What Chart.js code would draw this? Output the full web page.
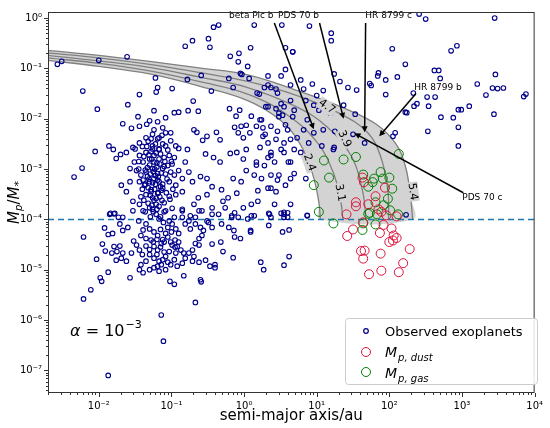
<!DOCTYPE html>
<html><head><meta charset="utf-8">
<script src="https://cdn.jsdelivr.net/npm/chart.js@4/dist/chart.umd.min.js"></script>
<style>html,body{margin:0;padding:0;background:#fff}#w{width:550px;height:428px}</style>
</head><body><div id="w"><canvas id="c"></canvas></div>
<script>
// All values are log10(semi-major axis / au), log10(Mp/M*)
const observedLog = [
[-0.42,-0.18],[-0.35,-0.14],[0.14,-0.14],[0.52,-0.14],[-0.81,-0.56],[-0.71,-0.45],[-0.49,-0.41],[-0.47,-0.58],[0.09,-0.59],[-0.07,-0.70],
[-0.19,-0.76],[-0.08,-0.87],[0.05,-0.96],[-0.05,-1.10],[-0.03,-1.12],[-1.61,-0.77],[-2.00,-0.84],[-2.57,-0.92],[-2.51,-0.86],[-1.22,-1.19],
[-0.78,-1.22],[-0.59,-1.14],[-0.45,-1.45],[-0.21,-1.20],[-0.15,-1.38],[0.07,-1.20],[0.18,-1.49],[0.28,-1.38],[0.33,-1.33],[0.37,-1.38],
[0.46,-1.49],[0.57,-1.02],[0.67,-0.67],[-2.22,-1.45],[-1.19,-1.38],[-1.21,-1.47],[-0.99,-1.40],[-1.44,-1.52],[-1.60,-1.72],[-2.02,-1.81],
[-1.24,-1.84],[-0.96,-1.88],[-0.90,-1.87],[-0.77,-1.84],[-0.63,-1.85],[-0.70,-1.65],[-0.20,-1.80],[-0.11,-1.95],[-0.06,-1.83],[0.10,-1.95],
[0.22,-2.02],[0.33,-1.76],[0.44,-1.80],[0.48,-1.89],[0.53,-1.93],[0.57,-2.12],[0.55,-1.76],[0.69,-1.83],[-1.46,-1.96],[-1.67,-2.10],
[-1.55,-2.19],[-1.44,-2.15],[-1.30,-2.04],[-1.19,-2.06],[-1.08,-1.98],[-1.34,-2.11],[-1.24,-2.22],[-1.12,-2.18],[-1.01,-2.28],[-0.69,-2.22],
[-0.65,-2.27],[-0.57,-2.43],[-0.51,-2.35],[-0.38,-2.27],[-0.33,-2.42],[-0.13,-2.17],[-0.04,-2.15],[0.03,-2.13],[-0.08,-2.28],[-0.01,-2.38],
[0.08,-2.28],[0.17,-2.15],[0.26,-2.18],[0.29,-2.31],[0.37,-2.15],[0.46,-2.25],[0.33,-2.48],[0.22,-2.57],[0.37,-2.67],[0.55,-2.48],
[0.55,-2.67],[0.64,-2.41],[0.69,-2.61],[0.61,-2.86],[0.42,-2.86],[0.33,-2.77],[0.17,-2.92],[-0.01,-2.80],[0.03,-2.61],[-0.10,-2.67],
[-0.19,-2.69],[-0.33,-2.86],[-0.42,-2.77],[-0.53,-2.70],[-0.78,-2.61],[-0.90,-2.59],[-1.86,-2.54],[-1.80,-2.61],[-2.05,-2.65],[-2.23,-2.98],
[-2.34,-3.16],[-1.76,-2.79],[-1.70,-2.71],[-1.62,-2.67],[-1.53,-2.57],[-1.44,-2.48],[-1.35,-2.38],[-1.26,-2.31],[-1.17,-2.38],[-1.08,-2.28],
[-1.01,-2.44],[-0.94,-2.54],[-1.08,-2.54],[-1.17,-2.61],[-1.26,-2.54],[-1.35,-2.67],[-1.44,-2.73],[-1.51,-2.86],[-1.57,-2.99],[-1.48,-3.03],
[-1.39,-2.86],[-1.30,-2.80],[-1.24,-2.73],[-1.17,-2.80],[-1.10,-2.77],[-1.03,-2.73],[-0.96,-2.77],[-0.99,-2.90],[-1.05,-2.93],[-1.12,-2.99],
[-1.19,-3.09],[-1.26,-2.99],[-1.35,-3.06],[-1.42,-3.12],[-1.44,-3.25],[-1.37,-3.32],[-1.30,-3.25],[-1.24,-3.19],[-1.17,-3.25],[-1.28,-3.41],
[-1.35,-3.51],[-1.26,-3.57],[-1.19,-3.48],[-1.12,-3.38],[-1.03,-3.25],[-0.96,-3.12],[-0.90,-3.03],[-1.01,-3.06],[-0.94,-3.32],[-0.85,-3.19],
[-0.76,-3.06],[-0.81,-2.86],[-0.71,-3.25],[-0.85,-3.45],[-0.94,-3.51],[-1.03,-3.54],[-1.10,-3.67],[-1.21,-3.70],[-1.30,-3.77],[-1.21,-3.90],
[-1.44,-3.70],[-1.53,-3.64],[-1.62,-3.45],[-1.69,-3.32],[-1.57,-3.25],[-0.60,-3.15],[-0.51,-3.19],[-0.44,-3.35],[-0.51,-3.51],[-0.63,-3.57],
[-0.69,-3.70],[-0.31,-3.41],[-0.29,-3.64],[-0.22,-3.57],[-0.10,-3.48],[-0.15,-3.19],[-0.04,-3.25],[0.03,-3.03],[0.14,-3.12],[0.17,-2.86],
[0.28,-2.93],[0.37,-3.12],[0.46,-3.22],[0.57,-3.32],[0.69,-3.09],[0.44,-3.45],[0.33,-3.38],[0.19,-3.64],[0.10,-3.70],[-0.01,-3.77],
[-0.13,-3.87],[-0.26,-3.77],[-0.35,-3.90],[-0.44,-3.77],[-0.58,-3.83],[-0.74,-3.93],[-0.85,-3.80],[-0.99,-3.78],[-0.17,-3.96],[0.10,-3.93],
[0.37,-3.96],[0.55,-3.90],[0.64,-3.70],[-1.85,-3.90],[-1.79,-3.89],[-0.96,-3.96],
[-1.32,-2.45],[-1.22,-2.50],[-1.15,-2.70],[-1.28,-2.65],[-1.20,-2.88],[-1.30,-2.92],[-1.10,-2.95],[-1.25,-3.05],[-1.18,-3.15],[-1.33,-3.15],
[-1.22,-3.30],[-1.12,-3.30],[-1.28,-3.45],[-1.16,-3.55],[-1.24,-3.62],[-1.32,-3.68],[-1.20,-3.80],[-1.10,-3.85],[-1.40,-3.40],[-1.45,-3.00],
[-1.38,-2.75],[-1.05,-2.62],[-1.00,-2.85],[-1.08,-3.10],[-0.98,-3.40],[-1.50,-2.60],[-1.27,-2.80],[-1.17,-2.60],[-1.23,-3.00],[-1.14,-3.42],
[-1.36,-3.30],[-1.29,-3.95],[-1.15,-3.95],[-1.42,-3.55],[-1.19,-2.40],[-1.34,-2.55],
[-1.26,-2.60],[-1.21,-2.68],[-1.31,-2.72],[-1.24,-2.86],[-1.16,-2.90],[-1.33,-2.97],[-1.20,-2.96],[-1.29,-3.10],[-1.14,-3.08],[-1.22,-3.13],
[-1.31,-3.20],[-1.19,-3.22],[-1.26,-3.27],[-1.15,-3.35],[-1.32,-3.37],[-1.23,-3.40],[-1.18,-3.47],[-1.29,-3.52],[-1.21,-3.58],[-1.13,-3.62],
[-1.27,-3.72],[-1.17,-3.74],[-1.25,-3.85],[-1.36,-3.85],[-1.12,-2.50],[-1.40,-2.55],[-1.09,-2.85],[-1.36,-3.02],[-1.06,-3.20],[-1.39,-3.22],
[-1.07,-3.47],[-1.38,-3.62],[-1.28,-2.40],[-1.13,-2.33],[-1.45,-2.85],[-1.02,-3.60],
[2.41,0.08],[2.50,-0.02],[3.45,0],[0.90,-0.16],[1.20,-0.30],[1.20,-0.45],[0.57,-0.59],[0.67,-0.67],[2.04,-0.61],[2.22,-0.92],
[2.85,-0.65],[2.93,-0.55],[2.62,-1.04],[2.68,-1.04],[2.70,-1.20],[1.85,-1.09],[1.84,-1.15],[2.11,-1.17],[1.95,-1.23],[1.73,-1.30],
[1.75,-1.34],[1.43,-1.38],[1.55,-1.43],[1.24,-1.11],[1.32,-1.26],[0.64,-1.33],[1.00,-1.54],[1.37,-1.73],[1.53,-1.91],[1.95,-1.52],
[2.33,-1.49],[2.52,-1.57],[2.63,-1.57],[2.54,-1.75],[2.38,-1.70],[2.34,-1.75],[2.22,-1.87],[2.24,-1.88],[2.08,-2.28],[2.05,-2.35],
[2.53,-2.25],[2.71,-1.97],[2.88,-1.98],[2.95,-1.82],[2.99,-1.82],[3.10,-1.75],[3.21,-1.31],[3.33,-1.53],[3.42,-1.39],[3.46,-1.12],
[3.49,-1.40],[3.57,-1.39],[3.44,-1.91],[2.95,-2.17],[2.95,-2.54],[3.85,-1.56],[3.88,-1.51],[1.24,-2.57],[0.87,-3.92],[0.19,-3.43],
[0.14,-3.93],[0.34,-3.88],[0.51,-3.88],[0.55,-3.96],[0.60,-3.87],[0.42,-3.70],[0.37,-3.38],[0.24,-3.19],[0.48,-3.12],[0.64,-3.19],
[0.85,-3.19],[0.64,-2.86],[0.37,-2.73],[0.51,-2.61],[0.26,-2.35],[0.44,-2.41],[0.60,-2.22],[0.73,-2.38],[0.24,-2.02],[0.48,-1.96],
[0.67,-1.96],[0.87,-2.02],[0.30,-1.76],[0.51,-1.70],[0.64,-1.64],[0.85,-1.64],[0.96,-1.73],[0.21,-1.51],[0.44,-1.41],[0.33,-1.15],
[0.51,-1.15],[0.78,-1.23],[0.94,-1.31],[0.82,-1.41],[1.09,-1.44],[1.03,-1.83],[1.19,-1.89],[1.25,-2.25],[1.09,-2.22],[0.96,-2.28],
[0.82,-2.22],[0.89,-2.48],[0.78,-2.67],[1.07,-2.54],[2.23,-3.91],[1.50,-2.31],[1.66,-2.48],[1.23,-2.61],
[-2.21,-4.35],[-1.92,-4.17],[-1.87,-4.30],[-1.84,-3.88],[-1.78,-3.88],[-1.81,-4.28],[-1.95,-4.49],[-2.03,-4.79],[-1.91,-4.63],[-1.79,-4.54],
[-1.71,-4.53],[-1.75,-4.64],[-1.82,-4.67],[-1.76,-4.81],[-1.69,-4.77],[-1.62,-4.83],[-1.87,-5.05],[-1.98,-5.16],[-1.96,-5.23],[-2.11,-5.40],
[-2.21,-5.58],[-1.57,-5.16],[-1.67,-4.22],[-1.60,-4.16],[-1.71,-4.09],[-1.67,-4.67],[-1.55,-4.67],[-1.52,-4.43],[-1.48,-4.51],[-1.44,-4.61],
[-1.42,-4.32],[-1.39,-4.21],[-1.45,-4.03],[-1.35,-4.09],[-1.30,-4.19],[-1.24,-4.25],[-1.19,-4.32],[-1.28,-4.41],[-1.35,-4.53],[-1.24,-4.54],
[-1.19,-4.61],[-1.14,-4.48],[-1.12,-4.40],[-1.08,-4.28],[-1.05,-4.16],[-1.11,-4.06],[-1.17,-3.99],[-1.03,-4.03],[-0.99,-4.09],[-0.94,-4.19],
[-0.90,-4.28],[-0.95,-4.41],[-1.01,-4.45],[-0.99,-4.51],[-0.92,-4.54],[-0.87,-4.61],[-0.83,-4.67],[-0.94,-4.67],[-1.03,-4.64],[-1.08,-4.74],
[-1.12,-4.80],[-1.17,-4.83],[-1.24,-4.77],[-1.30,-4.70],[-1.35,-4.83],[-1.42,-4.90],[-1.44,-5.00],[-1.39,-5.06],[-1.30,-5.00],[-1.24,-4.96],
[-1.17,-5.03],[-1.19,-4.93],[-1.14,-4.90],[-1.08,-5.00],[-1.01,-4.90],[-0.96,-4.80],[-0.92,-4.93],[-0.85,-4.87],[-0.81,-4.77],[-0.76,-4.67],
[-0.71,-4.61],[-0.67,-4.48],[-0.62,-4.38],[-0.58,-4.32],[-0.56,-4.22],[-0.60,-4.16],[-0.67,-4.09],[-0.74,-4.19],[-0.76,-4.03],[-0.81,-4.09],
[-0.85,-3.96],[-0.67,-3.96],[-0.49,-4.06],[-0.44,-4.16],[-0.51,-4.03],[-0.62,-4.51],[-0.69,-4.74],[-0.71,-4.83],[-0.62,-4.85],[-0.53,-4.81],
[-0.47,-4.93],[-0.40,-4.90],[-0.40,-4.96],[-0.60,-5.20],[-0.59,-5.24],[-0.67,-5.65],[-1.02,-5.23],[-0.96,-5.29],[-0.83,-5.12],[-1.14,-5.90],
[-1.11,-6.42],[-1.87,-7.10],[-0.44,-4.49],[-0.32,-4.45],[-0.29,-4.64],[-0.15,-4.76],[-0.05,-4.38],[0.09,-4.25],[0.09,-4.22],[-0.21,-4.16],
[-0.31,-4.09],[-0.13,-4.35],[-0.14,-4.22],[0.23,-4.85],[0.27,-5.00],[0.34,-4.12],[0.55,-4.91],[0.53,-4.25],[0.62,-4.21],[0.62,-4.74],
[0.60,-3.96],[0.87,-3.93],[0.55,-3.86],[0.35,-3.90],[0.05,-3.99],[-0.08,-3.96],[-0.17,-3.93],[-0.44,-3.90],[-0.62,-3.83],[-0.85,-3.83],
[-1.08,-3.83],[-1.26,-3.80],[-1.39,-3.83],[-1.53,-3.83],[-1.67,-3.96],[-1.73,-3.96],
[-1.10,-4.45],[-1.20,-4.40],[-1.15,-4.55],[-1.05,-4.35],[-1.25,-4.45],[-1.00,-4.25],[-1.10,-4.65],[-1.30,-4.60],[-1.15,-4.20],[-0.95,-4.55],
[-1.20,-4.70],[-1.05,-4.85],[-1.35,-4.38],[-0.90,-4.45],[-1.40,-4.70]
];
const gasLog = [
[1.10,-2.83],[1.37,-2.81],[1.54,-2.76],[2.13,-2.70],[1.17,-3.17],[0.96,-3.32],[1.64,-3.11],[1.71,-3.35],[1.79,-3.19],[1.88,-3.06],
[1.91,-3.19],[2.00,-3.17],[1.77,-3.26],[2.04,-3.39],[1.98,-3.59],[1.81,-3.66],[1.92,-3.72],[2.01,-3.82],[2.12,-3.90],[1.73,-3.87],
[1.83,-3.90],[1.03,-3.85],[1.23,-4.08],[1.64,-4.08],[1.81,-4.10],[1.63,-4.21],[1.71,-3.89]
];
const dustLog = [
[1.63,-3.17],[1.65,-3.26],[1.94,-3.37],[1.81,-3.54],[1.54,-3.66],[1.54,-3.74],[1.71,-3.70],[1.85,-3.80],[1.89,-3.85],[1.41,-3.90],
[1.96,-3.92],[2.10,-3.94],[1.64,-4.06],[1.92,-4.11],[2.03,-4.18],[1.50,-4.20],[1.87,-4.27],[1.42,-4.33],[2.06,-4.32],[2.10,-4.37],
[2.00,-4.45],[2.05,-4.42],[1.61,-4.63],[1.66,-4.62],[1.88,-4.68],[1.64,-4.78],[2.28,-4.59],[2.19,-4.87],[1.89,-5.02],[1.72,-5.09],[2.13,-5.05]
];
// contour curves (log10 a, log10 Mp/M*)
const curve54 = [[-2.70,-0.64],[-2.0,-0.74],[-1.30,-0.86],[-0.62,-0.99],[0.05,-1.13],[0.73,-1.44],[1.41,-1.81],[1.82,-2.11],[2.09,-2.50],[2.22,-2.94],[2.29,-3.53],[2.32,-4]];
const curve47 = [[-2.70,-0.69],[-2.0,-0.79],[-1.30,-0.92],[-0.62,-1.08],[0.05,-1.26],[0.73,-1.54],[1.28,-1.87],[1.69,-2.26],[1.88,-2.75],[1.98,-3.43],[1.99,-4]];
const curve39 = [[-2.70,-0.74],[-2.0,-0.85],[-1.30,-0.98],[-0.62,-1.17],[0.05,-1.38],[0.73,-1.77],[1.14,-2.16],[1.48,-2.75],[1.63,-3.43],[1.68,-4]];
const curve31 = [[-2.70,-0.79],[-2.0,-0.90],[-1.30,-1.05],[-0.62,-1.26],[0.05,-1.51],[0.60,-1.93],[1.00,-2.46],[1.22,-3.04],[1.33,-3.63],[1.36,-4]];
const curve24 = [[-2.70,-0.84],[-2.0,-0.96],[-1.30,-1.11],[-0.62,-1.35],[0.05,-1.64],[0.50,-2.03],[0.77,-2.50],[0.94,-3.08],[1.03,-3.66],[1.05,-4]];
const curveLabels = ['2.4','3.1','3.9','4.7','5.4'];
const curveLabelLog = [[0.90,-2.87],[1.32,-3.47],[1.38,-2.40],[1.14,-1.76],[2.32,-3.45]];
const planetNames = ['beta Pic b','PDS 70 b','HR 8799 c','HR 8799 b','PDS 70 c'];
const planetLog = [[0.96,-2.21],[1.37,-2.00],[1.66,-2.27],[1.86,-2.35],[1.52,-2.29]];
const planetTextLog = [[0.10,0.04],[0.75,0.04],[1.99,0.04],[2.67,-1.38],[3.28,-3.57]];
const massLimit = 1e-4;
const xRange = [2e-3, 1e4];
const yRange = [3.55e-8, 1.32];

const P = a => a.map(([l,m]) => ({x: 10**l, y: 10**m}));
const band = P(curve54.concat(curve24.slice().reverse()));
const FONT = 'DejaVu Sans';
const SUP = {'-':'⁻','0':'⁰','1':'¹','2':'²','3':'³','4':'⁴','5':'⁵','6':'⁶','7':'⁷','8':'⁸','9':'⁹'};
const isPow = v => Math.abs(Math.log10(v) - Math.round(Math.log10(v))) < 1e-6;
const tickList = (lo, hi) => { const t=[]; for (let e=Math.floor(Math.log10(lo)); e<=Math.ceil(Math.log10(hi)); e++) for (let m=1;m<10;m++){ const v=m*Math.pow(10,e); if(v>=lo*0.999999&&v<=hi*1.000001) t.push({value:v}); } return t; };
const lbl = v => isPow(v) ? '10' + String(Math.round(Math.log10(v))).split('').map(c=>SUP[c]).join('') : '';

const lineDs = (c) => ({type:'line', data:P(c), borderColor:'#808080', borderWidth:1.3, pointRadius:0, fill:false, tension:0.4, order:9});

const deco = {
  id:'deco',
  afterDatasetsDraw(chart){
    const ctx=chart.ctx, xs=chart.scales.x, ys=chart.scales.y, ca=chart.chartArea;
    const X=l=>xs.getPixelForValue(10**l), Y=l=>ys.getPixelForValue(10**l);
    ctx.save();
    const rot=[70,80,65,35,82];
    curveLabels.forEach((t,i)=>{
      const px=X(curveLabelLog[i][0]), py=Y(curveLabelLog[i][1]);
      ctx.save(); ctx.translate(px,py); ctx.rotate(rot[i]*Math.PI/180);
      ctx.font='11px '+FONT; const w=ctx.measureText(t).width;
      ctx.fillStyle='#d3d3d3'; ctx.fillRect(-w/2-1,-6,w+2,12);
      ctx.fillStyle='#000'; ctx.textAlign='center'; ctx.textBaseline='middle'; ctx.fillText(t,0,0);
      ctx.restore();
    });
    ctx.font='9px '+FONT; ctx.fillStyle='#000'; ctx.textAlign='center'; ctx.textBaseline='middle';
    const tailOff=[[23,7],[21,7],[-23,7],[-22,6],[-19,-5]];
    planetNames.forEach((n,i)=>{
      const tx=X(planetTextLog[i][0]), ty=Y(planetTextLog[i][1]);
      ctx.fillText(n,tx,ty);
      const x0=tx+tailOff[i][0], y0=ty+tailOff[i][1];
      const x1=X(planetLog[i][0]), y1=Y(planetLog[i][1]);
      ctx.strokeStyle='#000'; ctx.lineWidth=1.5;
      const a=Math.atan2(y1-y0,x1-x0), h=6;
      ctx.beginPath(); ctx.moveTo(x0,y0); ctx.lineTo(x1-h*Math.cos(a)*0.8,y1-h*Math.sin(a)*0.8); ctx.stroke();
      ctx.beginPath(); ctx.moveTo(x1,y1);
      ctx.lineTo(x1-h*Math.cos(a)+3*Math.sin(a), y1-h*Math.sin(a)-3*Math.cos(a));
      ctx.lineTo(x1-h*Math.cos(a)-3*Math.sin(a), y1-h*Math.sin(a)+3*Math.cos(a));
      ctx.closePath(); ctx.fill();
    });
    ctx.textAlign='left'; ctx.textBaseline='alphabetic';
    ctx.font='italic 16px '+FONT; ctx.fillText('α',70,336);
    let w=ctx.measureText('α').width;
    ctx.font='16px '+FONT; ctx.fillText(' = 10',70+w,336);
    w+=ctx.measureText(' = 10').width;
    ctx.font='11px '+FONT; ctx.fillText('−3',70+w+1,328);
    ctx.strokeStyle='#333'; ctx.lineWidth=1;
    ctx.strokeRect(ca.left+0.5,ca.top+0.5,ca.right-ca.left-1,ca.bottom-ca.top-1);
    xs.ticks.forEach(t=>{const p=Math.round(xs.getPixelForValue(t.value))+0.5; const L=isPow(t.value)?4:2; ctx.beginPath(); ctx.moveTo(p,ca.bottom); ctx.lineTo(p,ca.bottom+L); ctx.stroke();});
    ys.ticks.forEach(t=>{const p=Math.round(ys.getPixelForValue(t.value))+0.5; const L=isPow(t.value)?4:2; ctx.beginPath(); ctx.moveTo(ca.left,p); ctx.lineTo(ca.left-L,p); ctx.stroke();});
    ctx.fillStyle='#000'; ctx.textAlign='center'; ctx.textBaseline='middle';
    ctx.font='15px '+FONT; ctx.fillText('semi-major axis/au',(ca.left+ca.right)/2,416);
    ctx.save(); ctx.translate(15,(ca.top+ca.bottom)/2); ctx.rotate(-Math.PI/2);
    const parts=[['M','italic 15px',0],['p','italic 10px',4],['/','15px',0],['M','italic 15px',0],['*','11px',4]];
    let tw=0; parts.forEach(p=>{ctx.font=p[1]+' '+FONT; tw+=ctx.measureText(p[0]).width;});
    let cx=-tw/2; ctx.textAlign='left';
    parts.forEach(p=>{ctx.font=p[1]+' '+FONT; ctx.fillText(p[0],cx,p[2]); cx+=ctx.measureText(p[0]).width;});
    ctx.restore();
    const lx=345, ly=318, lw=192, lh=66;
    ctx.fillStyle='rgba(255,255,255,0.85)'; ctx.strokeStyle='#ccc'; ctx.lineWidth=1;
    ctx.beginPath(); ctx.roundRect(lx+0.5,ly+0.5,lw,lh,3); ctx.fill(); ctx.stroke();
    const rows=[[331,'#00008b',2.3,1.2],[352,'crimson',4.5,1],[372,'green',4.5,1]];
    rows.forEach(r=>{ctx.strokeStyle=r[1]; ctx.lineWidth=r[3]; ctx.beginPath(); ctx.arc(366,r[0],r[2],0,Math.PI*2); ctx.stroke();});
    ctx.fillStyle='#000'; ctx.textAlign='left'; ctx.textBaseline='alphabetic';
    ctx.font='13px '+FONT; ctx.fillText('Observed exoplanets',385,336);
    [[357,'p, dust'],[378,'p, gas']].forEach(([yy,s])=>{
      ctx.font='italic 14px '+FONT; ctx.fillText('M',385,yy);
      const mw=ctx.measureText('M').width; ctx.font='italic 10px '+FONT; ctx.fillText(s,385+mw+1,yy+4);
    });
    ctx.restore();
  }
};

new Chart(document.getElementById('c'), {
  type:'scatter',
  data:{datasets:[
    {type:'line', data:band, backgroundColor:'#d3d3d3', borderWidth:0, borderColor:'rgba(0,0,0,0)', pointRadius:0, fill:'shape', tension:0.4, order:10},
    lineDs(curve24), lineDs(curve31), lineDs(curve39), lineDs(curve47), lineDs(curve54),
    {type:'line', data:[{x:xRange[0],y:massLimit},{x:xRange[1],y:massLimit}], borderColor:'#1f77b4', borderWidth:1.5, borderDash:[6,4], pointRadius:0, fill:false, order:8},
    {data:P(observedLog), borderColor:'#00008b', backgroundColor:'rgba(0,0,0,0)', pointRadius:2.3, borderWidth:1.1, order:3},
    {data:P(gasLog), borderColor:'green', backgroundColor:'rgba(0,0,0,0)', pointRadius:4.5, borderWidth:1, order:2},
    {data:P(dustLog), borderColor:'crimson', backgroundColor:'rgba(0,0,0,0)', pointRadius:4.5, borderWidth:1, order:1}
  ]},
  options:{
    responsive:true, maintainAspectRatio:false, animation:false,
    layout:{padding:{top:3,right:9,left:0,bottom:0}},
    plugins:{legend:{display:false}, tooltip:{enabled:false}},
    scales:{
      x:{type:'logarithmic', min:xRange[0], max:xRange[1], grid:{display:false,drawTicks:false}, border:{display:false},
         afterBuildTicks:s=>{s.ticks=tickList(xRange[0],xRange[1]);},
         afterFit:s=>{s.height=35;},
         ticks:{autoSkip:false, maxRotation:0, padding:7, color:'#000', font:{family:FONT,size:10}, callback:v=>lbl(v)}},
      y:{type:'logarithmic', min:yRange[0], max:yRange[1], grid:{display:false,drawTicks:false}, border:{display:false},
         afterBuildTicks:s=>{s.ticks=tickList(yRange[0],yRange[1]);},
         afterFit:s=>{s.width=48;},
         ticks:{autoSkip:false, padding:6, color:'#000', font:{family:FONT,size:10}, callback:v=>lbl(v)}}
    }
  },
  plugins:[deco]
});
</script></body></html>
